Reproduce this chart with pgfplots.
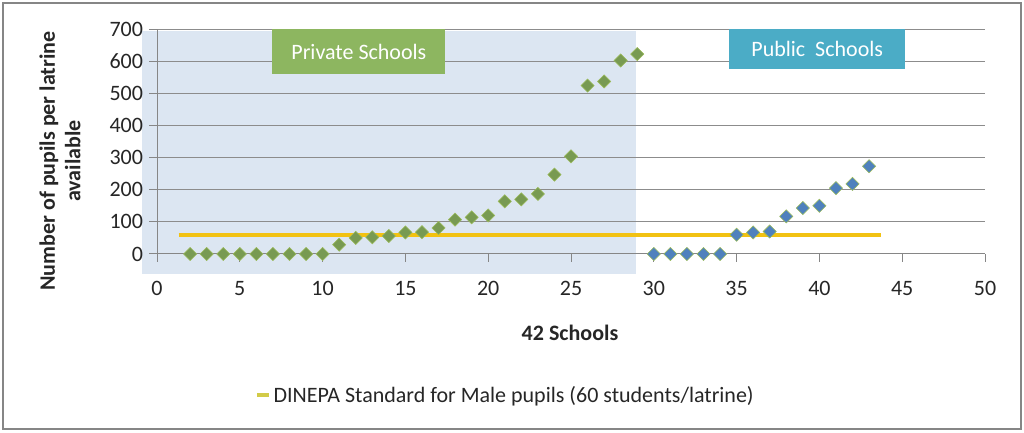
\documentclass[border=0pt]{standalone}
\usepackage{fontspec}
\setmainfont{Carlito}
\usepackage{pgfplots}
\pgfplotsset{compat=1.18}
\definecolor{bgshade}{HTML}{DCE6F2}
\definecolor{framegray}{HTML}{868686}
\definecolor{axisgray}{HTML}{868686}
\definecolor{gridgray}{HTML}{8C8C8C}
\definecolor{privgreen}{HTML}{8DB660}
\definecolor{pubteal}{HTML}{4BACC6}
\definecolor{dgreen}{HTML}{789A52}
\definecolor{dblue}{HTML}{4F81BD}
\definecolor{outl}{HTML}{9BBB59}
\definecolor{stdline}{HTML}{F2C212}
\definecolor{legline}{HTML}{D2CB48}
\pgfplotstableread{
x y
2 0
3 0
4 0
5 0
6 0
7 0
8 0
9 0
10 0
11 29
12 50
13 52
14 56
15 67
16 68
17 81
18 107
19 114
20 120
21 164
22 170
23 187
24 247
25 304
26 524
27 537
28 602
29 622
}\privtable
\pgfplotstableread{
x y
30 0
31 0
32 0
33 0
34 0
35 60
36 67
37 70
38 117
39 143
40 150
41 205
42 218
43 273
}\pubtable
\begin{document}
\begin{tikzpicture}
\path[use as bounding box] (0,0) rectangle (768pt,324pt);
\draw[color=framegray, line width=1.2pt] (2.25pt,2.25pt) rectangle (765.75pt,321.75pt);
\fill[bgshade] (106.3pt,118.5pt) rectangle (476.8pt,301pt);
\begin{axis}[
  at={(117.75pt,133.5pt)}, anchor=south west,
  scale only axis, width=621pt, height=168.75pt,
  xmin=0, xmax=50, ymin=0, ymax=700,
  xtick={0,5,...,50}, ytick={0,100,...,700},
  axis x line=bottom, axis y line=left,
  axis line style={draw=axisgray, line width=0.75pt, -},
  ymajorgrids, grid style={gridgray, line width=0.75pt},
  tick style={axisgray, line width=0.75pt}, tick align=outside, major tick length=6pt,
  ticklabel style={font=\fontsize{16.5}{19}\selectfont, text=black!85},
  xticklabel style={yshift=-11pt},
  yticklabel style={xshift=-1pt},
  /pgf/number format/assume math mode=true,
  clip=false,
  legend style={at={(0.4215,-0.6267)}, anchor=center, draw=none, fill=none,
    font=\fontsize{16.5}{19}\selectfont, text=black!85},
  legend image code/.code={\draw[line width=2.5pt, legline] (0pt,0pt)--(9pt,0pt);},
]
\addplot[stdline, line width=3pt] coordinates {(1.3,60) (43.7,60)};
\addlegendentry{DINEPA Standard for Male pupils (60 students/latrine)}
\addplot[only marks, mark=square*, mark size=3.5pt, mark options={rotate=45, fill=dgreen, draw=outl, line width=0.4pt}, forget plot] table[x=x,y=y] {\privtable};
\addplot[only marks, mark=square*, mark size=3.5pt, mark options={rotate=45, fill=dblue, draw=outl, line width=0.4pt}, forget plot] table[x=x,y=y] {\pubtable};
\node[fill=privgreen, text=white, minimum width=129.75pt, minimum height=33.75pt, inner sep=0pt, font=\fontsize{16.5}{19}\selectfont] at (axis cs:12.19,630) {Private Schools};
\node[fill=pubteal, text=white, minimum width=132pt, minimum height=29.5pt, inner sep=0pt, font=\fontsize{16.5}{19}\selectfont] at (axis cs:39.87,638) {Public\ \ Schools};
\end{axis}
\node[font=\bfseries\fontsize{16.5}{19}\selectfont, text=black!85] at (427.5pt,74.25pt) {42 Schools};
\node[font=\bfseries\fontsize{16.5}{19}\selectfont, text=black!85, rotate=90, align=center] at (45pt,203.25pt) {Number of pupils per latrine\\available};
\end{tikzpicture}
\end{document}
